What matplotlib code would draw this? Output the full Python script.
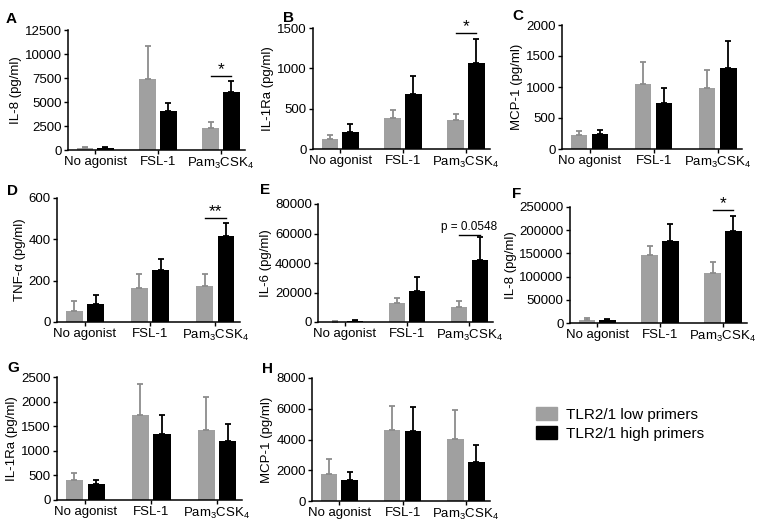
import numpy as np
import matplotlib
matplotlib.use("Agg")
import matplotlib.pyplot as plt
from matplotlib.patches import Patch

plt.rcParams['font.family'] = ['Liberation Sans', 'DejaVu Sans']
plt.rcParams['mathtext.fontset'] = 'custom'
plt.rcParams['mathtext.rm'] = 'Liberation Sans'
plt.rcParams['mathtext.it'] = 'Liberation Sans'

# ---------------------
# Data
# ---------------------
groups = ["No agonist", "FSL-1", "Pam$_3$CSK$_4$"]
series = ["TLR2/1 low primers", "TLR2/1 high primers"]

panels = ["A", "B", "C", "D", "E", "F", "G", "H"]
ylabels = ["IL-8 (pg/ml)", "IL-1Ra (pg/ml)", "MCP-1 (pg/ml)", "TNF-α (pg/ml)",
           "IL-6 (pg/ml)", "IL-8 (pg/ml)", "IL-1Ra (pg/ml)", "MCP-1 (pg/ml)"]

low_mean = {
    "A": [200, 7400, 2300],
    "B": [130, 390, 355],
    "C": [220, 1050, 985],
    "D": [55, 165, 175],
    "E": [200, 12800, 10100],
    "F": [7000, 146000, 107000],
    "G": [408, 1735, 1427],
    "H": [1740, 4650, 4050],
}
low_err = {
    "A": [150, 3430, 650],
    "B": [45, 90, 85],
    "C": [65, 350, 295],
    "D": [45, 65, 55],
    "E": [150, 3400, 3800],
    "F": [3000, 21000, 24000],
    "G": [136, 625, 666],
    "H": [980, 1500, 1900],
}
high_mean = {
    "A": [250, 4100, 6050],
    "B": [210, 680, 1060],
    "C": [237, 747, 1306],
    "D": [88, 250, 418],
    "E": [700, 20700, 42200],
    "F": [5500, 176000, 198000],
    "G": [320, 1345, 1190],
    "H": [1348, 4565, 2565],
}
high_err = {
    "A": [100, 760, 1170],
    "B": [95, 230, 300],
    "C": [63, 231, 441],
    "D": [45, 55, 60],
    "E": [400, 9700, 15100],
    "F": [2500, 38000, 33000],
    "G": [95, 390, 360],
    "H": [565, 1520, 1045],
}

ymax = {"A": 12500, "B": 1500, "C": 2000, "D": 600, "E": 80000,
        "F": 250000, "G": 2500, "H": 8000}
ystep = {"A": 2500, "B": 500, "C": 500, "D": 200, "E": 20000,
         "F": 50000, "G": 500, "H": 2000}

# significance marks: panel -> (bracket level, text)
signif = {"A": (7750, "*"), "B": (1440, "*"), "D": (505, "**"),
          "E": (59000, "p = 0.0548"), "F": (243000, "*")}

# axes boxes in pixels: left, right, top, bottom
boxes = {
    "A": (68, 245, 30, 150),
    "B": (313, 490, 28, 149),
    "C": (562, 742, 25, 149),
    "D": (57, 240, 198, 322),
    "E": (318, 493, 204, 322),
    "F": (570, 747, 207, 323),
    "G": (57, 242, 377, 500),
    "H": (312, 490, 378, 501),
}
letter_pos = {"A": (6, 12), "B": (283, 11), "C": (512, 9), "D": (7, 184),
              "E": (260, 183), "F": (512, 187), "G": (7, 361), "H": (262, 362)}

W, H = 762, 528
c_low = "#a0a0a0"
c_high = "#000000"

fig = plt.figure(figsize=(W / 100, H / 100), dpi=100)

x = np.arange(len(groups))
bw = 0.26
off = 0.165

for p, yl in zip(panels, ylabels):
    l, r, t, b = boxes[p]
    ax = fig.add_axes([l / W, 1 - b / H, (r - l) / W, (b - t) / H])
    zeros = np.zeros(len(groups))
    ax.bar(x - off, low_mean[p], bw, color=c_low,
           yerr=[zeros, low_err[p]], ecolor="#8c8c8c",
           error_kw=dict(capsize=2.5, elinewidth=1.3, capthick=1.3))
    ax.bar(x + off, high_mean[p], bw, color=c_high,
           yerr=[zeros, high_err[p]], ecolor=c_high,
           error_kw=dict(capsize=2.5, elinewidth=1.3, capthick=1.3))
    ax.set_xlim(-0.43, 2.38)
    ax.set_ylim(0, ymax[p])
    ax.set_yticks(np.arange(0, ymax[p] + 1, ystep[p]))
    ax.set_xticks(x)
    ax.set_xticklabels(groups)
    ax.set_ylabel(yl, fontsize=9.5, labelpad=2)
    ax.tick_params(axis="both", labelsize=9.5, length=3, width=1, pad=1.5)
    for s in ["top", "right"]:
        ax.spines[s].set_visible(False)
    for s in ["left", "bottom"]:
        ax.spines[s].set_linewidth(1.1)

    if p in signif:
        lev, txt = signif[p]
        ax.plot([2 - off, 2 + off], [lev, lev], color="black", lw=1)
        if txt.startswith("p"):
            ax.text(2, lev + ymax[p] * 0.02, txt, ha="center", va="bottom",
                    fontsize=8.5)
        else:
            ax.text(2, lev - ymax[p] * 0.01, txt, ha="center", va="bottom",
                    fontsize=12.5)

    lx, ly = letter_pos[p]
    fig.text(lx / W, 1 - ly / H, p, fontsize=11, fontweight="bold",
             ha="left", va="top")

handles = [Patch(color=c_low), Patch(color=c_high)]
fig.legend(handles, series, loc="upper left",
           bbox_to_anchor=(522 / W, 1 - 393 / H), frameon=False,
           fontsize=11, handlelength=1.4, handleheight=0.95,
           handletextpad=0.55, labelspacing=0.3)

fig.savefig("out.png", dpi=100)
